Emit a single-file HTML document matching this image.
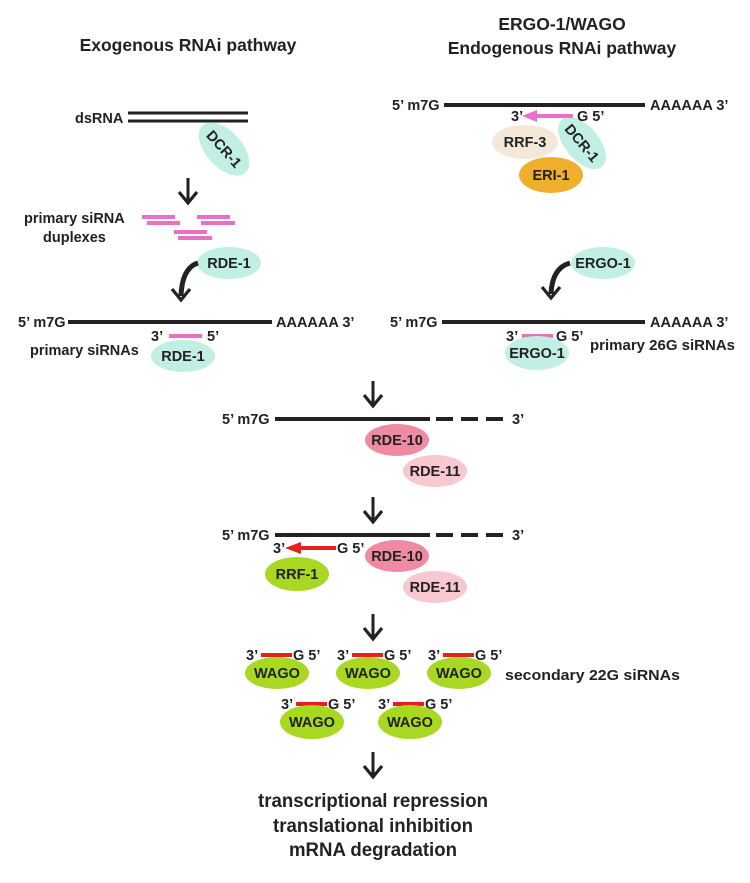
<!DOCTYPE html>
<html><head><meta charset="utf-8"><style>
html,body{margin:0;padding:0;background:#fff;}
svg{display:block;}
text{font-family:"Liberation Sans",Arial,sans-serif;font-weight:bold;fill:#222;}
.l{font-size:14.5px;}
.t{font-size:17.5px;}
.b{font-size:19px;}
</style></head><body>
<svg width="750" height="883" viewBox="0 0 750 883" xmlns="http://www.w3.org/2000/svg">
<defs>
<g id="dn"><line x1="0" y1="0" x2="0" y2="24" stroke="#222" stroke-width="3"/><path d="M-9 14 L0 25 L9 14" fill="none" stroke="#222" stroke-width="3.2"/></g>
</defs>
<!-- titles -->
<text class="t" x="188" y="51" text-anchor="middle">Exogenous RNAi pathway</text>
<text class="t" x="562" y="30" text-anchor="middle">ERGO-1/WAGO</text>
<text class="t" x="562" y="54" text-anchor="middle">Endogenous RNAi pathway</text>

<!-- LEFT -->
<text class="l" x="75" y="123">dsRNA</text>
<line x1="128" y1="113" x2="248" y2="113" stroke="#222" stroke-width="3"/>
<line x1="128" y1="121" x2="248" y2="121" stroke="#222" stroke-width="3"/>
<g transform="translate(224,149) rotate(48)"><ellipse rx="32" ry="18" fill="#c2efe3"/><text class="l" x="0" y="5" text-anchor="middle">DCR-1</text></g>
<use href="#dn" x="188" y="178"/>
<text class="l" x="24" y="223">primary siRNA</text>
<text class="l" x="43" y="242">duplexes</text>
<g stroke="#e870c8" stroke-width="4">
<line x1="142" y1="217" x2="175" y2="217"/><line x1="147" y1="223" x2="180" y2="223"/>
<line x1="197" y1="217" x2="230" y2="217"/><line x1="201" y1="223" x2="235" y2="223"/>
<line x1="174" y1="232" x2="207" y2="232"/><line x1="178" y1="238" x2="212" y2="238"/>
</g>
<ellipse cx="229" cy="263" rx="32" ry="16" fill="#c2efe3"/><text class="l" x="229" y="268" text-anchor="middle">RDE-1</text>
<path d="M198 263 Q182 268 181 296" fill="none" stroke="#222" stroke-width="5"/>
<path d="M172 289 L181 300 L190 289" fill="none" stroke="#222" stroke-width="3.2"/>
<text class="l" x="18" y="327">5’ m7G</text>
<line x1="68" y1="322" x2="272" y2="322" stroke="#222" stroke-width="4"/>
<text class="l" x="276" y="327">AAAAAA 3’</text>
<text class="l" x="151" y="341">3’</text>
<line x1="169" y1="336" x2="202" y2="336" stroke="#e870c8" stroke-width="4"/>
<text class="l" x="207" y="341">5’</text>
<text class="l" x="30" y="355">primary siRNAs</text>
<ellipse cx="183" cy="356" rx="32" ry="16" fill="#c2efe3"/><text class="l" x="183" y="361" text-anchor="middle">RDE-1</text>

<!-- RIGHT -->
<text class="l" x="392" y="110">5’ m7G</text>
<line x1="444" y1="105" x2="645" y2="105" stroke="#222" stroke-width="4"/>
<text class="l" x="650" y="110">AAAAAA 3’</text>
<ellipse cx="525" cy="142" rx="33" ry="17" fill="#f4e9d8"/><text class="l" x="525" y="147" text-anchor="middle">RRF-3</text>
<ellipse cx="551" cy="175" rx="32" ry="18" fill="#f0ae2c"/><text class="l" x="551" y="180" text-anchor="middle">ERI-1</text>
<g transform="translate(582,143) rotate(50)"><ellipse rx="31" ry="17" fill="#c2efe3"/><text class="l" x="0" y="5" text-anchor="middle">DCR-1</text></g>
<text class="l" x="511" y="121">3’</text>
<line x1="534" y1="116" x2="573" y2="116" stroke="#e870c8" stroke-width="4"/>
<path d="M522 116 L537 110 L537 122 Z" fill="#e870c8"/>
<text class="l" x="577" y="121">G 5’</text>
<ellipse cx="603" cy="263" rx="32" ry="16" fill="#c2efe3"/><text class="l" x="603" y="268" text-anchor="middle">ERGO-1</text>
<path d="M570 263 Q552 268 551 294" fill="none" stroke="#222" stroke-width="5"/>
<path d="M542 287 L551 298 L560 287" fill="none" stroke="#222" stroke-width="3.2"/>
<text class="l" x="390" y="327">5’ m7G</text>
<line x1="442" y1="322" x2="645" y2="322" stroke="#222" stroke-width="4"/>
<text class="l" x="650" y="327">AAAAAA 3’</text>
<text class="l" x="506" y="341">3’</text>
<line x1="522" y1="336" x2="553" y2="336" stroke="#e870c8" stroke-width="4"/>
<text class="l" x="556" y="341">G 5’</text>
<ellipse cx="537" cy="353" rx="32" ry="17" fill="#c2efe3"/><text class="l" x="537" y="358" text-anchor="middle">ERGO-1</text>
<text class="l" x="590" y="350" textLength="145" lengthAdjust="spacingAndGlyphs">primary 26G siRNAs</text>

<!-- CENTER -->
<use href="#dn" x="373" y="381"/>
<text class="l" x="222" y="424">5’ m7G</text>
<line x1="275" y1="419" x2="430" y2="419" stroke="#222" stroke-width="4"/>
<line x1="436" y1="419" x2="506" y2="419" stroke="#222" stroke-width="4" stroke-dasharray="17 8"/>
<text class="l" x="512" y="424">3’</text>
<ellipse cx="397" cy="440" rx="32" ry="16" fill="#ee8aa2"/><text class="l" x="397" y="445" text-anchor="middle">RDE-10</text>
<ellipse cx="435" cy="471" rx="32" ry="16" fill="#f8c8d0"/><text class="l" x="435" y="476" text-anchor="middle">RDE-11</text>

<use href="#dn" x="373" y="497"/>
<text class="l" x="222" y="540">5’ m7G</text>
<line x1="275" y1="535" x2="430" y2="535" stroke="#222" stroke-width="4"/>
<line x1="436" y1="535" x2="506" y2="535" stroke="#222" stroke-width="4" stroke-dasharray="17 8"/>
<text class="l" x="512" y="540">3’</text>
<text class="l" x="273" y="553">3’</text>
<line x1="298" y1="548" x2="336" y2="548" stroke="#e8201c" stroke-width="4"/>
<path d="M285 548 L301 542 L301 554 Z" fill="#e8201c"/>
<text class="l" x="337" y="553">G 5’</text>
<ellipse cx="297" cy="574" rx="32" ry="17" fill="#a8d822"/><text class="l" x="297" y="579" text-anchor="middle">RRF-1</text>
<ellipse cx="397" cy="556" rx="32" ry="16" fill="#ee8aa2"/><text class="l" x="397" y="561" text-anchor="middle">RDE-10</text>
<ellipse cx="435" cy="587" rx="32" ry="16" fill="#f8c8d0"/><text class="l" x="435" y="592" text-anchor="middle">RDE-11</text>

<use href="#dn" x="373" y="614"/>
<g>
<text class="l" x="246" y="660">3’</text><line x1="261" y1="655" x2="292" y2="655" stroke="#e8201c" stroke-width="4"/><text class="l" x="293" y="660">G 5’</text>
<ellipse cx="277" cy="673" rx="32" ry="16" fill="#a8d822"/><text class="l" x="277" y="678" text-anchor="middle">WAGO</text>
<text class="l" x="337" y="660">3’</text><line x1="352" y1="655" x2="383" y2="655" stroke="#e8201c" stroke-width="4"/><text class="l" x="384" y="660">G 5’</text>
<ellipse cx="368" cy="673" rx="32" ry="16" fill="#a8d822"/><text class="l" x="368" y="678" text-anchor="middle">WAGO</text>
<text class="l" x="428" y="660">3’</text><line x1="443" y1="655" x2="474" y2="655" stroke="#e8201c" stroke-width="4"/><text class="l" x="475" y="660">G 5’</text>
<ellipse cx="459" cy="673" rx="32" ry="16" fill="#a8d822"/><text class="l" x="459" y="678" text-anchor="middle">WAGO</text>
<text class="l" x="505" y="680" textLength="175" lengthAdjust="spacingAndGlyphs">secondary 22G siRNAs</text>
<text class="l" x="281" y="709">3’</text><line x1="296" y1="704" x2="327" y2="704" stroke="#e8201c" stroke-width="4"/><text class="l" x="328" y="709">G 5’</text>
<ellipse cx="312" cy="722" rx="32" ry="17" fill="#a8d822"/><text class="l" x="312" y="727" text-anchor="middle">WAGO</text>
<text class="l" x="378" y="709">3’</text><line x1="393" y1="704" x2="424" y2="704" stroke="#e8201c" stroke-width="4"/><text class="l" x="425" y="709">G 5’</text>
<ellipse cx="410" cy="722" rx="32" ry="17" fill="#a8d822"/><text class="l" x="410" y="727" text-anchor="middle">WAGO</text>
</g>
<use href="#dn" x="373" y="752"/>
<text class="b" x="373" y="807" text-anchor="middle" textLength="230" lengthAdjust="spacingAndGlyphs">transcriptional repression</text>
<text class="b" x="373" y="832" text-anchor="middle" textLength="200" lengthAdjust="spacingAndGlyphs">translational inhibition</text>
<text class="b" x="373" y="856" text-anchor="middle" textLength="168" lengthAdjust="spacingAndGlyphs">mRNA degradation</text>
</svg>
</body></html>
